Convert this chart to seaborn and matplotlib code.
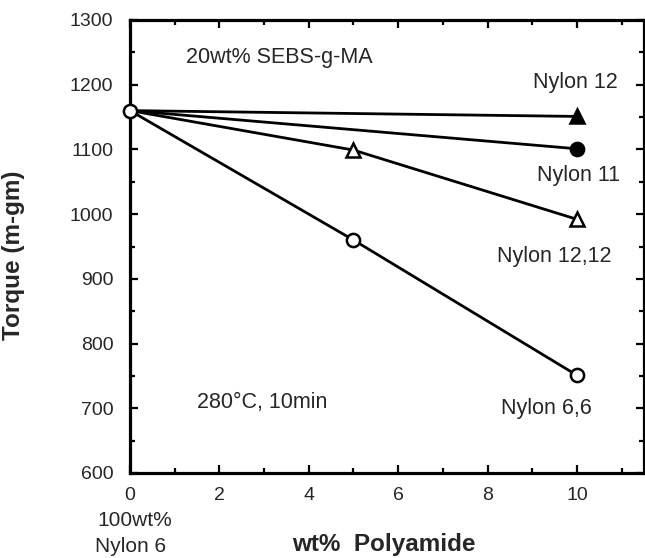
import numpy as np
import pandas as pd
import seaborn as sns
import matplotlib.pyplot as plt
from matplotlib.ticker import MultipleLocator

# values
start_x = 0
start_torque = 1160          # 100wt% Nylon 6

nylon12_x = [0, 10]
nylon12_y = [1160, 1151]

nylon11_x = [0, 10]
nylon11_y = [1160, 1101]

nylon1212_x = [0, 5, 10]
nylon1212_y = [1160, 1099, 992]

nylon66_x = [0, 5, 10]
nylon66_y = [1160, 960, 751]

x_ticks = [0, 2, 4, 6, 8, 10]
y_ticks = [600, 700, 800, 900, 1000, 1100, 1200, 1300]

sns.set_theme(style="ticks")
plt.rcParams['font.family'] = ['Liberation Sans', 'DejaVu Sans']

fig = plt.figure(figsize=(6.45, 5.58), dpi=100)
ax = fig.add_axes([130 / 645, 1 - 473 / 558, 514 / 645, 453 / 558])

# (x, y, marker, face colour, which points get a marker)
series = [
    (nylon12_x, nylon12_y, '^', 'black', [1]),
    (nylon11_x, nylon11_y, 'o', 'black', [1]),
    (nylon1212_x, nylon1212_y, '^', 'white', [1, 2]),
    (nylon66_x, nylon66_y, 'o', 'white', [1, 2]),
]
for xs, ys, mk, face, every in series:
    sns.lineplot(x=xs, y=ys, ax=ax, color='black', linewidth=2.0,
                 marker=mk, markersize=9.5, markerfacecolor=face,
                 markeredgecolor='black', markeredgewidth=1.8,
                 markevery=every, zorder=3)

# shared starting point
ax.plot([start_x], [start_torque], 'o', color='black', markersize=9.5,
        markerfacecolor='white', markeredgewidth=1.8, zorder=4, clip_on=False)

ax.set_xlim(0, 11.5)
ax.set_ylim(600, 1300)
ax.set_xticks(x_ticks)
ax.set_yticks(y_ticks)
ax.xaxis.set_minor_locator(MultipleLocator(1))
ax.yaxis.set_minor_locator(MultipleLocator(50))
ax.tick_params(which='both', direction='in', top=True, right=True,
               color='black', width=1.6)
ax.tick_params(which='major', length=6, labelsize=14)
ax.tick_params(which='minor', length=3.5)
ax.tick_params(axis='x', which='major', pad=10)
ax.tick_params(axis='y', which='major', pad=12)
for s in ax.spines.values():
    s.set_linewidth(2.3)
    s.set_color('black')

ax.set_ylabel('Torque (m-gm)', fontsize=17.5, fontweight='bold')
ax.yaxis.set_label_coords(-0.204, 0.48)
ax.set_xlabel('wt%  Polyamide', fontsize=17.5, fontweight='bold')
ax.xaxis.set_label_coords(0.494, -0.158)
ax.xaxis.label.set_va('center')

fs = 15.5
ax.text(1.25, 1242, '20wt% SEBS-g-MA', fontsize=fs, va='center')
ax.text(9.02, 1203, 'Nylon 12', fontsize=fs, va='center')
ax.text(9.1, 1060, 'Nylon 11', fontsize=fs, va='center')
ax.text(8.21, 934, 'Nylon 12,12', fontsize=fs, va='center')
ax.text(8.3, 700, 'Nylon 6,6', fontsize=fs, va='center')
ax.text(1.5, 709, '280\u00b0C, 10min', fontsize=fs, va='center')

fig.text(135 / 645, 1 - 521 / 558, '100wt%', fontsize=15, ha='center', va='center')
fig.text(131 / 645, 1 - 546 / 558, 'Nylon 6', fontsize=15, ha='center', va='center')

fig.savefig('out.png', dpi=100)
